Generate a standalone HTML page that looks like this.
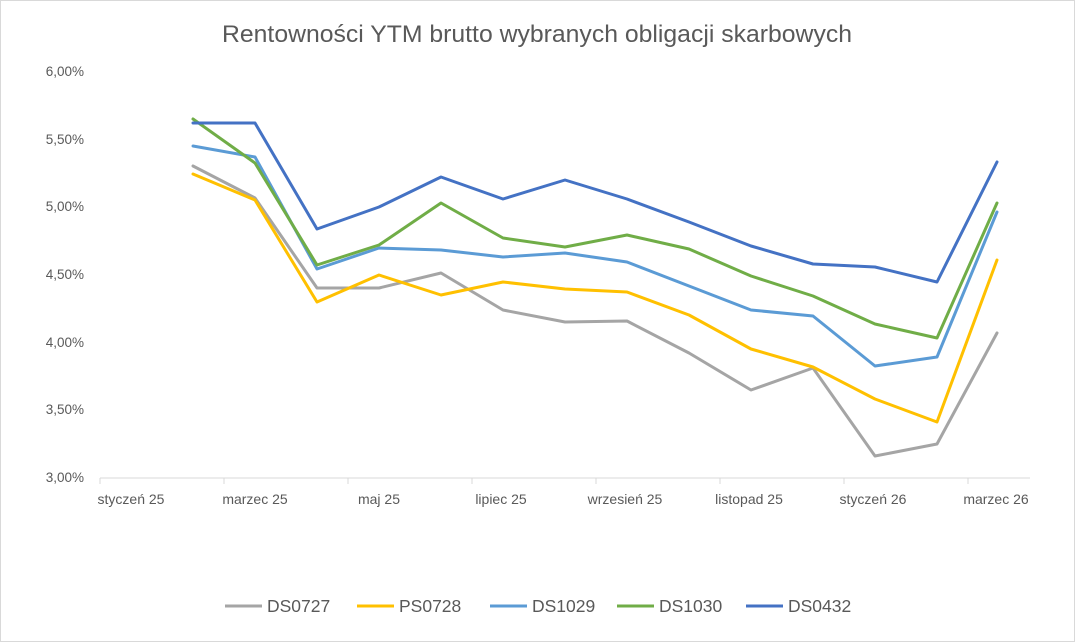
<!DOCTYPE html>
<html><head><meta charset="utf-8"><style>
body{margin:0;background:#fff;}
svg{display:block;font-family:"Liberation Sans",Arial,sans-serif;}
</style></head><body>
<svg width="1075" height="642" viewBox="0 0 1075 642">
<rect x="0.5" y="0.5" width="1074" height="641" fill="#fff" stroke="#d9d9d9"/>
<text x="537" y="42" text-anchor="middle" font-size="24.5" fill="#595959" textLength="630" lengthAdjust="spacingAndGlyphs">Rentowności YTM brutto wybranych obligacji skarbowych</text>
<g font-size="13.5" fill="#595959" text-anchor="end">
<text x="84" y="76">6,00%</text><text x="84" y="144">5,50%</text><text x="84" y="211">5,00%</text>
<text x="84" y="279">4,50%</text><text x="84" y="347">4,00%</text><text x="84" y="414">3,50%</text><text x="84" y="482">3,00%</text>
</g>
<line x1="100" y1="478" x2="1030" y2="478" stroke="#d9d9d9"/>
<g stroke="#d9d9d9">
<line x1="100" y1="478" x2="100" y2="484"/><line x1="224" y1="478" x2="224" y2="484"/><line x1="348" y1="478" x2="348" y2="484"/><line x1="472" y1="478" x2="472" y2="484"/><line x1="596" y1="478" x2="596" y2="484"/><line x1="720" y1="478" x2="720" y2="484"/><line x1="844" y1="478" x2="844" y2="484"/><line x1="968" y1="478" x2="968" y2="484"/>
</g>
<g font-size="14" fill="#595959" text-anchor="middle">
<text x="131" y="504">styczeń 25</text><text x="255" y="504">marzec 25</text><text x="379" y="504">maj 25</text><text x="501" y="504">lipiec 25</text><text x="625" y="504">wrzesień 25</text><text x="749" y="504">listopad 25</text><text x="873" y="504">styczeń 26</text><text x="996" y="504">marzec 26</text>
</g>
<g fill="none" stroke-width="3" stroke-linejoin="round" stroke-linecap="round">
<polyline stroke="#a5a5a5" points="193,166 255,198 317,288 379,288 441,273 503,310 565,322 627,321 689,353 751,390 813,368 875,456 937,444 997,333"/>
<polyline stroke="#ffc000" points="193,174 255,200 317,302 379,275 441,295 503,282 565,289 627,292 689,315 751,349 813,367 875,399 937,422 997,260"/>
<polyline stroke="#5b9bd5" points="193,146 255,157 317,269 379,248 441,250 503,257 565,253 627,262 689,286 751,310 813,316 875,366 937,357 997,212"/>
<polyline stroke="#70ad47" points="193,119 255,163 317,265 379,245 441,203 503,238 565,247 627,235 689,249 751,276 813,296 875,324 937,338 997,203"/>
<polyline stroke="#4472c4" points="193,123 255,123 317,229 379,207 441,177 503,199 565,180 627,199 689,222 751,246 813,264 875,267 937,282 997,162"/>
</g>
<g font-size="17.5" fill="#595959" stroke-width="3">
<line x1="225" y1="606" x2="262" y2="606" stroke="#a5a5a5"/><text x="267" y="612">DS0727</text>
<line x1="357" y1="606" x2="394" y2="606" stroke="#ffc000"/><text x="399" y="612">PS0728</text>
<line x1="490" y1="606" x2="527" y2="606" stroke="#5b9bd5"/><text x="532" y="612">DS1029</text>
<line x1="617" y1="606" x2="654" y2="606" stroke="#70ad47"/><text x="659" y="612">DS1030</text>
<line x1="746" y1="606" x2="783" y2="606" stroke="#4472c4"/><text x="788" y="612">DS0432</text>
</g>
</svg>
</body></html>
